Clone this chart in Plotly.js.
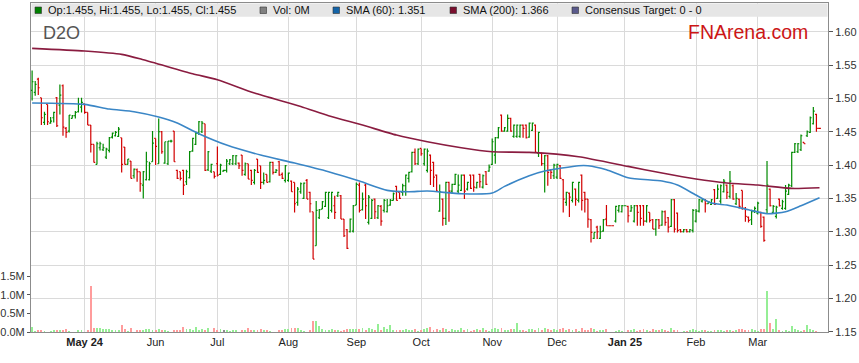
<!DOCTYPE html>
<html><head><meta charset="utf-8">
<script src="https://cdn.plot.ly/plotly-3.0.1.min.js"></script>
<style>html,body{margin:0;padding:0;background:#fff}#chart{width:859px;height:363px}</style>
</head><body><div id="chart"></div>
<script>
// ---------- DATA ----------
const firstDate = '2024-04-08';   // first weekday bar; every weekday through 2025-03-31
const ticker = 'D2O';
const brand = 'FNArena.com';

const openP = [
1.512,1.509,1.529,1.501,1.464,1.491,1.463,1.471,1.501,1.490,1.519,1.455,1.451,1.470,1.474,1.480,1.487,
1.492,1.479,1.460,1.431,1.401,1.426,1.423,1.412,1.422,1.442,1.444,1.443,1.441,1.427,1.401,1.406,1.384,1.393,1.390,1.370,1.378,1.378,1.405,
1.440,1.402,1.450,1.403,1.402,1.436,1.451,1.392,1.390,1.392,1.375,1.381,1.421,1.431,1.448,1.450,1.462,1.393,1.391,1.390,
1.402,1.386,1.391,1.392,1.402,1.402,1.402,1.403,1.415,1.386,1.402,1.392,1.374,1.409,1.399,1.374,1.386,1.375,1.404,1.389,1.405,1.386,1.377,
1.377,1.376,1.374,1.344,1.360,1.350,1.377,1.359,1.330,1.279,1.321,1.334,1.338,1.321,1.332,1.339,1.354,1.354,1.319,1.303,1.300,1.301,
1.340,1.370,1.333,1.370,1.314,1.320,1.349,1.321,1.338,1.332,1.330,1.340,1.347,1.368,1.359,1.359,1.369,1.380,1.390,1.419,1.402,
1.425,1.402,1.392,1.415,1.404,1.385,1.331,1.349,1.320,1.374,1.361,1.371,1.361,1.362,1.385,1.364,1.385,1.385,1.366,1.386,1.367,1.390,1.391,
1.401,1.415,1.441,1.475,1.451,1.451,1.470,1.443,1.443,1.443,1.460,1.460,1.442,1.452,1.460,1.418,1.418,1.402,1.414,1.392,1.384,
1.382,1.399,1.378,1.344,1.358,1.347,1.364,1.347,1.385,1.359,1.349,1.318,1.290,1.307,1.290,1.301,1.319,1.309,1.309,1.316,1.332,1.330,
1.339,1.338,1.331,1.316,1.339,1.339,1.339,1.316,1.329,1.318,1.304,1.318,1.310,1.330,1.321,1.308,1.348,1.328,1.303,1.300,1.303,1.300,1.302,
1.316,1.331,1.346,1.348,1.342,1.341,1.363,1.350,1.346,1.360,1.370,1.353,1.369,1.342,1.349,1.362,1.335,1.322,1.318,1.330,
1.328,1.329,1.322,1.333,1.364,1.329,1.323,1.349,1.335,1.335,1.356,1.369,1.419,1.420,1.423,1.434,1.444,1.449,1.462,1.476,1.455
];
const highP = [
1.542,1.526,1.531,1.501,1.480,1.491,1.472,1.480,1.502,1.521,1.521,1.457,1.475,1.475,1.481,1.501,1.501,
1.492,1.479,1.460,1.431,1.435,1.435,1.432,1.426,1.442,1.449,1.451,1.457,1.441,1.427,1.409,1.406,1.395,1.395,1.390,1.391,1.420,1.405,1.451,
1.440,1.470,1.451,1.435,1.436,1.438,1.451,1.393,1.390,1.393,1.393,1.421,1.441,1.450,1.466,1.466,1.462,1.421,1.402,1.390,
1.428,1.402,1.393,1.409,1.409,1.415,1.415,1.404,1.415,1.404,1.402,1.393,1.394,1.409,1.399,1.389,1.386,1.405,1.405,1.394,1.406,1.389,1.400,
1.389,1.377,1.374,1.367,1.374,1.374,1.379,1.360,1.330,1.346,1.334,1.346,1.360,1.360,1.360,1.354,1.360,1.355,1.319,1.304,1.320,1.340,
1.374,1.374,1.359,1.372,1.355,1.349,1.350,1.340,1.340,1.349,1.349,1.349,1.359,1.369,1.359,1.372,1.386,1.390,1.420,1.425,1.425,
1.425,1.425,1.425,1.416,1.405,1.386,1.371,1.350,1.375,1.375,1.372,1.387,1.386,1.386,1.386,1.375,1.386,1.386,1.375,1.387,1.386,1.391,1.401,
1.440,1.442,1.457,1.476,1.457,1.476,1.471,1.461,1.461,1.461,1.461,1.461,1.464,1.464,1.461,1.450,1.419,1.415,1.415,1.394,1.402,
1.402,1.400,1.379,1.360,1.359,1.375,1.365,1.375,1.386,1.360,1.349,1.319,1.299,1.309,1.309,1.319,1.340,1.309,1.309,1.339,1.340,1.340,
1.339,1.339,1.340,1.340,1.340,1.340,1.340,1.340,1.329,1.319,1.319,1.319,1.332,1.332,1.322,1.349,1.349,1.329,1.304,1.304,1.304,1.304,1.334,
1.334,1.349,1.349,1.349,1.346,1.349,1.364,1.371,1.371,1.379,1.371,1.391,1.371,1.358,1.350,1.362,1.337,1.323,1.333,1.338,
1.345,1.330,1.323,1.406,1.365,1.340,1.339,1.350,1.348,1.370,1.372,1.420,1.433,1.433,1.446,1.434,1.452,1.473,1.487,1.477,1.455
];
const lowP = [
1.497,1.504,1.505,1.460,1.460,1.460,1.462,1.464,1.457,1.476,1.444,1.441,1.449,1.470,1.470,1.479,1.479,
1.477,1.460,1.419,1.404,1.401,1.422,1.421,1.409,1.419,1.440,1.443,1.442,1.389,1.401,1.401,1.380,1.380,1.375,1.360,1.350,1.377,1.377,1.405,
1.400,1.402,1.417,1.402,1.400,1.434,1.405,1.379,1.377,1.355,1.370,1.380,1.420,1.430,1.445,1.448,1.391,1.391,1.388,1.380,
1.383,1.385,1.390,1.389,1.400,1.400,1.400,1.394,1.384,1.384,1.379,1.370,1.371,1.388,1.364,1.371,1.374,1.374,1.386,1.388,1.384,1.379,1.374,
1.375,1.360,1.329,1.339,1.357,1.349,1.349,1.329,1.259,1.279,1.319,1.334,1.337,1.319,1.329,1.319,1.352,1.319,1.292,1.274,1.299,1.299,
1.340,1.329,1.332,1.319,1.311,1.319,1.319,1.319,1.309,1.329,1.329,1.339,1.347,1.347,1.349,1.354,1.354,1.374,1.389,1.400,1.400,
1.414,1.399,1.389,1.370,1.367,1.360,1.330,1.309,1.310,1.315,1.357,1.370,1.357,1.361,1.349,1.362,1.364,1.360,1.365,1.366,1.365,1.370,1.390,
1.400,1.402,1.440,1.450,1.450,1.450,1.450,1.441,1.441,1.441,1.441,1.440,1.441,1.451,1.419,1.412,1.399,1.359,1.369,1.379,1.379,
1.379,1.379,1.329,1.339,1.322,1.344,1.339,1.344,1.332,1.329,1.306,1.284,1.289,1.289,1.289,1.300,1.309,1.309,1.309,1.314,1.329,1.329,
1.339,1.314,1.330,1.314,1.309,1.309,1.309,1.314,1.314,1.304,1.294,1.304,1.309,1.309,1.299,1.307,1.299,1.299,1.299,1.299,1.299,1.299,1.299,
1.314,1.329,1.344,1.329,1.342,1.340,1.340,1.349,1.342,1.359,1.349,1.350,1.348,1.340,1.335,1.333,1.315,1.314,1.310,1.328,
1.326,1.306,1.285,1.328,1.338,1.328,1.320,1.338,1.333,1.333,1.355,1.367,1.418,1.418,1.421,1.432,1.442,1.448,1.461,1.450,1.455
];
const closeP = [
1.525,1.521,1.516,1.471,1.476,1.465,1.466,1.479,1.459,1.505,1.457,1.449,1.475,1.474,1.479,1.491,1.494,
1.479,1.460,1.431,1.404,1.432,1.432,1.426,1.424,1.441,1.448,1.449,1.454,1.401,1.401,1.409,1.380,1.394,1.390,1.372,1.390,1.405,1.402,1.433,
1.428,1.450,1.420,1.435,1.436,1.436,1.405,1.380,1.380,1.370,1.390,1.420,1.440,1.448,1.465,1.463,1.392,1.420,1.401,1.383,
1.385,1.400,1.392,1.406,1.408,1.414,1.414,1.399,1.392,1.402,1.379,1.377,1.392,1.389,1.374,1.377,1.374,1.404,1.389,1.392,1.385,1.380,1.399,
1.388,1.360,1.342,1.364,1.372,1.373,1.349,1.342,1.259,1.332,1.333,1.345,1.359,1.359,1.359,1.329,1.359,1.319,1.294,1.275,1.319,1.339,
1.371,1.332,1.349,1.339,1.352,1.347,1.330,1.339,1.316,1.347,1.339,1.347,1.357,1.347,1.350,1.369,1.385,1.389,1.419,1.402,1.424,
1.417,1.424,1.421,1.392,1.382,1.361,1.360,1.320,1.374,1.361,1.371,1.386,1.370,1.385,1.361,1.374,1.365,1.367,1.374,1.375,1.384,1.371,1.397,
1.435,1.441,1.456,1.451,1.456,1.470,1.451,1.460,1.460,1.460,1.455,1.441,1.463,1.463,1.419,1.449,1.402,1.414,1.389,1.389,1.400,
1.401,1.380,1.349,1.359,1.352,1.374,1.349,1.374,1.347,1.349,1.319,1.299,1.299,1.300,1.300,1.318,1.309,1.309,1.309,1.338,1.339,1.339,
1.339,1.324,1.336,1.339,1.329,1.320,1.316,1.339,1.317,1.304,1.318,1.309,1.330,1.314,1.307,1.348,1.304,1.302,1.300,1.303,1.300,1.303,1.332,
1.331,1.348,1.348,1.342,1.345,1.348,1.341,1.364,1.369,1.376,1.359,1.376,1.349,1.350,1.338,1.335,1.323,1.317,1.330,1.335,
1.343,1.308,1.287,1.370,1.339,1.338,1.337,1.339,1.345,1.361,1.370,1.419,1.432,1.432,1.444,1.432,1.450,1.471,1.481,1.455,1.455
];
// volume in millions of shares
const volumeM = [
0.13,0.03,0.045,0.06,0.03,0.01,0.035,0.06,0.06,0.06,
0.06,0.09,0.03,0,0.01,0.06,0.045,0.01,0.045,1.25,
0.11,0.12,0.115,0.07,0.07,0.07,0.05,0.045,0.06,0.2,
0.07,0.03,0.12,0.01,0.045,0.06,0.06,0.09,0.09,0.045,
0.05,0.09,0.06,0.045,0.03,0,0.045,0.06,0.06,0.14,
0.09,0.09,0.06,0.14,0.06,0.09,0.045,0.11,0.01,0.12,
0.045,0.09,0.045,0.06,0.035,0.06,0.045,0.01,0.06,0.045,
0.12,0.06,0.045,0.045,0.09,0.045,0.045,0.03,0.01,0.01,
0.06,0.045,0.07,0.09,0.115,0.115,0.115,0.045,0.03,0.01,
0.06,0.29,0.31,0.16,0.07,0.045,0.06,0.09,0.045,0.045,
0.03,0.045,0.09,0.09,0.09,0.09,0.09,0.115,0.045,0.115,
0.09,0.045,0.22,0.045,0.13,0.07,0.2,0.06,0.045,0.045,
0.06,0.09,0.045,0.06,0.09,0.03,0.06,0.09,0.115,0.125,
0.06,0.08,0.05,0.12,0.07,0.04,0.09,0.05,0.06,0.1,
0.05,0.07,0.04,0.06,0.08,0.05,0.11,0.06,0.04,0.09,
0.12,0.08,0.1,0.06,0.05,0.07,0.09,0.25,0.06,0.05,
0.04,0.07,0.08,0.05,0.1,0.06,0.12,0.08,0.05,0.07,
0.06,0.09,0.11,0.05,0.07,0.06,0.08,0.04,0.1,0.06,
0.05,0.12,0.09,0.04,0.06,0.05,0.07,0,0,0.04,
0.05,0.03,0,0.06,0.05,0.07,0.04,0.06,0.08,0.05,
0.04,0.07,0.05,0.06,0.09,0.05,0.04,0.1,0.06,0.05,
0,0.03,0.04,0.05,0.08,0.06,0.04,0.05,0.045,0.03,
0.04,0.045,0.045,0.045,0.03,0.045,0.045,0.03,0.045,0.07,
0.07,0.045,0.045,0.09,0.045,0.03,0.09,0.07,1.11,0.25,
0.09,0.34,0.045,0.03,0.045,0.03,0.16,0.07,0.045,0.03,
0.045,0.18,0.07,0.045,0.03,0
];
const sma60Dates = ['2024-04-08','2024-05-01','2024-05-13','2024-05-23','2024-06-04','2024-06-12','2024-06-21','2024-07-04','2024-07-19','2024-08-05',
'2024-08-20','2024-09-03','2024-09-16','2024-09-25','2024-10-03','2024-10-18','2024-11-01','2024-11-07','2024-11-19','2024-11-26',
'2024-12-11','2024-12-16','2024-12-24','2025-01-02','2025-01-17','2025-01-24','2025-02-03','2025-02-10','2025-02-17','2025-02-26',
'2025-03-06','2025-03-14','2025-03-21','2025-03-31'];
const sma60 = [1.493,1.491,1.484,1.480,1.472,1.463,1.447,1.430,1.415,1.403,
1.390,1.376,1.362,1.360,1.361,1.357,1.358,1.368,1.384,1.391,
1.399,1.399,1.393,1.381,1.376,1.370,1.355,1.343,1.340,1.333,
1.327,1.330,1.339,1.351];
const sma200Dates = ['2024-04-08','2024-05-01','2024-05-17','2024-05-28','2024-06-19','2024-07-01','2024-07-17','2024-08-07','2024-08-20','2024-09-04',
'2024-09-19','2024-10-03','2024-10-18','2024-11-01','2024-11-19','2024-12-11','2025-01-02','2025-01-17','2025-02-03','2025-02-17',
'2025-03-03','2025-03-18','2025-03-31'];
const sma200 = [1.575,1.571,1.566,1.558,1.537,1.528,1.508,1.488,1.474,1.460,
1.445,1.435,1.426,1.420,1.419,1.4125,1.398,1.388,1.379,1.373,
1.370,1.365,1.366];
const monthTickDates = ['2024-05-01','2024-06-03','2024-07-01','2024-08-01','2024-09-02','2024-10-01','2024-11-01','2024-12-02','2025-01-01','2025-02-03','2025-03-03'];
const monthTickLabels = ['<b>May 24</b>','Jun','Jul','Aug','Sep','Oct','Nov','Dec','<b>Jan 25</b>','Feb','Mar'];
const volTickVals = [0, 0.5, 1.0, 1.5];
const consensusText = 'Consensus Target: 0 - 0';

// ---------- weekday dates for the bars ----------
function weekdays(start, n) {
  const out = [];
  const d = new Date(start + 'T00:00:00Z');
  while (out.length < n) {
    const w = d.getUTCDay();
    if (w !== 0 && w !== 6) out.push(d.toISOString().slice(0, 10));
    d.setUTCDate(d.getUTCDate() + 1);
  }
  return out;
}
const dates = weekdays(firstDate, openP.length);

// ---------- geometry helpers (pixels -> paper) ----------
const W = 859, H = 363;
const PL = 31, PR = 828, PT = 3, PB = 332;
const px = X => (X - PL) / (PR - PL);
const py = Y => (PB - Y) / (PB - PT);

const FONT = 'Liberation Sans, Arial, Helvetica, sans-serif';
const GREEN = '#008a00', RED = '#d20000';

const volColors = closeP.map((c, i) => {
  const d = c - openP[i];
  if (Math.abs(d) < 0.0015) return '#8c8c8c';
  return d > 0 ? '#95ee95' : '#ff9c9c';
});

const traces = [
  { type: 'bar', x: dates, y: volumeM, yaxis: 'y2', xaxis: 'x',
    marker: { color: volColors, line: { width: 0 } }, width: 0.62, hoverinfo: 'skip', showlegend: false },
  { type: 'scatter', mode: 'lines', x: sma200Dates, y: sma200, xaxis: 'x', yaxis: 'y',
    line: { color: '#8a1c40', width: 1.6, shape: 'spline', smoothing: 0.6 }, hoverinfo: 'skip', showlegend: false },
  { type: 'scatter', mode: 'lines', x: sma60Dates, y: sma60, xaxis: 'x', yaxis: 'y',
    line: { color: '#3a86c6', width: 1.6, shape: 'spline', smoothing: 0.6 }, hoverinfo: 'skip', showlegend: false },
  { type: 'ohlc', x: dates, open: openP, high: highP, low: lowP, close: closeP, xaxis: 'x', yaxis: 'y',
    increasing: { line: { color: GREEN, width: 1.2 } }, decreasing: { line: { color: RED, width: 1.2 } },
    tickwidth: 0.45, hoverinfo: 'skip', showlegend: false }
];

const last = openP.length - 1;
const legendItems = [
  { text: `Op:${openP[last].toFixed(3)}, Hi:${highP[last].toFixed(3)}, Lo:${lowP[last].toFixed(3)}, Cl:${closeP[last].toFixed(3)}`, color: '#008000', x: 35 },
  { text: `Vol: ${Math.round(volumeM[last])}M`, color: '#808080', x: 260 },
  { text: `SMA (60): ${sma60[sma60.length - 1].toFixed(3)}`, color: '#1464a8', x: 333 },
  { text: `SMA (200): ${sma200[sma200.length - 1].toFixed(3)}`, color: '#7a0f2e', x: 450 },
  { text: consensusText, color: '#5a5a8c', x: 572 }
];

const shapes = [
  { type: 'rect', xref: 'paper', yref: 'paper', x0: px(31.5), x1: px(827.5), y0: py(16.8), y1: py(3.6),
    fillcolor: '#e6e6e6', line: { width: 0 }, layer: 'above' }
];
const annotations = [];
legendItems.forEach(it => {
  shapes.push({ type: 'rect', xref: 'paper', yref: 'paper', x0: px(it.x), x1: px(it.x + 6.5), y0: py(13.5), y1: py(7),
    fillcolor: it.color, line: { color: '#333', width: 0.6 }, layer: 'above' });
  annotations.push({ xref: 'paper', yref: 'paper', x: px(it.x + 10.5), y: py(10.2), xanchor: 'left', yanchor: 'middle',
    text: it.text, showarrow: false, font: { family: FONT, size: 11, color: '#111' } });
});
annotations.push({ xref: 'paper', yref: 'paper', x: px(41), y: py(33), xanchor: 'left', yanchor: 'middle',
  text: ticker, showarrow: false, font: { family: FONT, size: 18, color: '#555' } });
annotations.push({ xref: 'paper', yref: 'paper', x: px(809.5), y: py(32), xanchor: 'right', yanchor: 'middle',
  text: brand, showarrow: false, font: { family: FONT, size: 19.5, color: '#cc1515' } });

const layout = {
  width: W, height: H,
  margin: { l: PL, r: W - PR, t: PT, b: H - PB, pad: 0 },
  paper_bgcolor: '#fff', plot_bgcolor: '#fff',
  font: { family: FONT, size: 11, color: '#222' },
  showlegend: false,
  bargap: 0,
  xaxis: {
    type: 'category', categoryorder: 'array', categoryarray: dates,
    range: [-0.36, 257.75],
    tickmode: 'array', tickvals: monthTickDates, ticktext: monthTickLabels,
    showgrid: true, gridcolor: '#dadada', gridwidth: 1,
    ticks: '', showline: true, mirror: true, linecolor: '#8c8c8c', linewidth: 1,
    tickfont: { family: FONT, size: 11, color: '#222' },
    zeroline: false, fixedrange: true, rangeslider: { visible: false }
  },
  yaxis: {
    side: 'right', range: [1.1496, 1.6431],
    tickmode: 'linear', tick0: 1.15, dtick: 0.05, tickformat: '.2f',
    ticks: 'outside', ticklen: 4, tickcolor: '#555', tickwidth: 1,
    showgrid: true, gridcolor: '#dadada', gridwidth: 1,
    showline: true, mirror: true, linecolor: '#8c8c8c', linewidth: 1,
    tickfont: { family: FONT, size: 11, color: '#333' }, zeroline: false, fixedrange: true
  },
  yaxis2: {
    overlaying: 'y', side: 'left', range: [0, 8.875],
    tickmode: 'array', tickvals: volTickVals, ticktext: volTickVals.map(v => v.toFixed(1) + 'M'),
    ticks: 'outside', ticklen: 3, tickcolor: '#555',
    showgrid: false, zeroline: false, showline: false,
    tickfont: { family: FONT, size: 11, color: '#333' }, fixedrange: true
  },
  shapes, annotations
};

Plotly.newPlot('chart', traces, layout, { staticPlot: true, displayModeBar: false });
</script>
</body></html>
